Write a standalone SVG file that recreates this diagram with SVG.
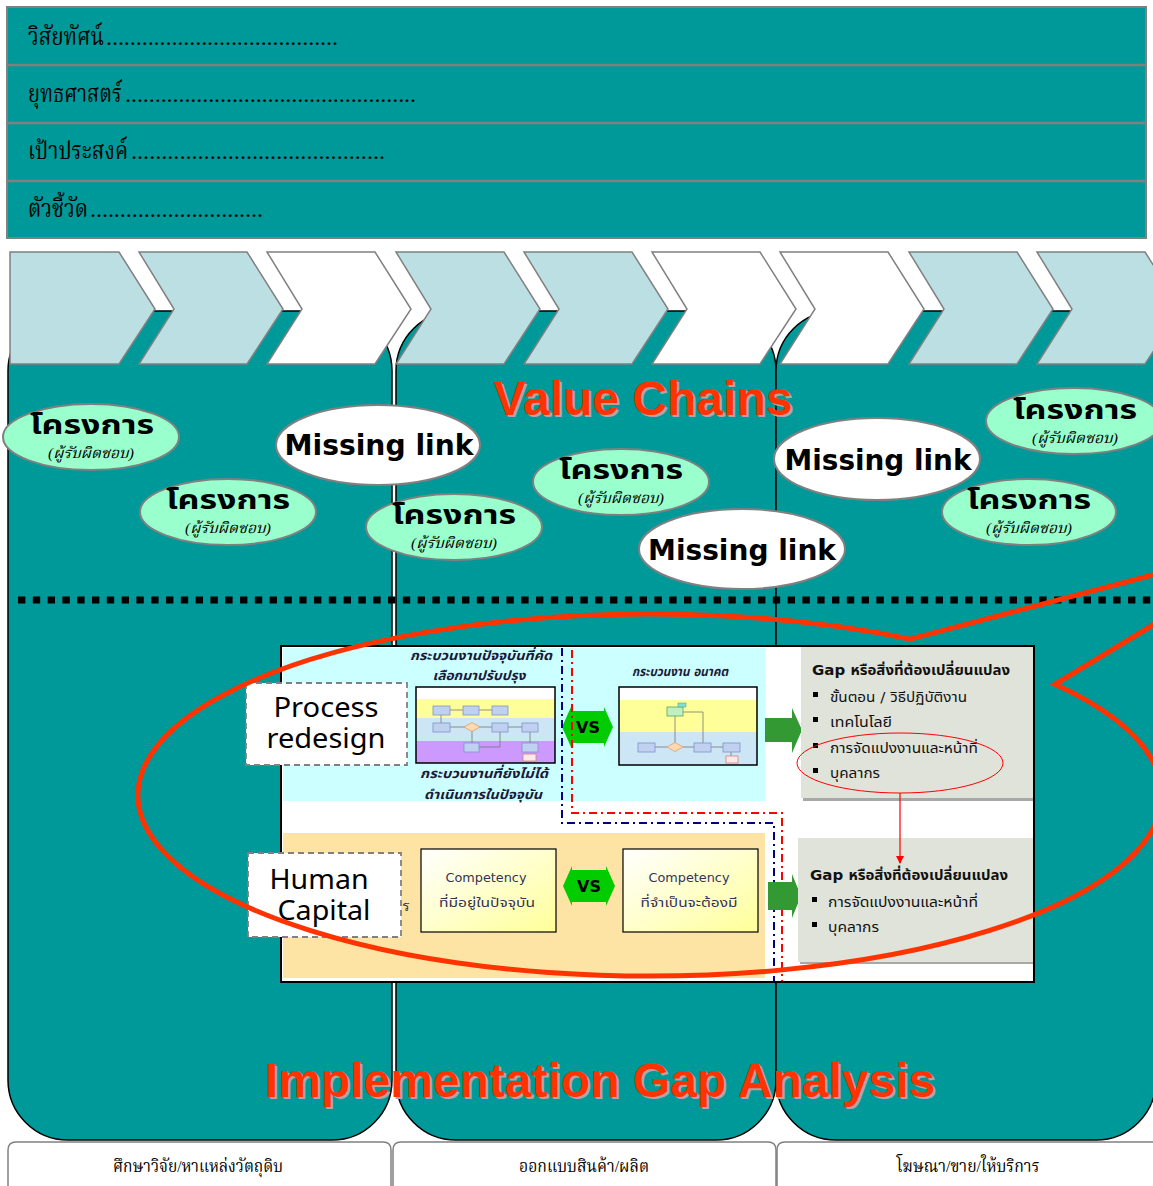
<svg xmlns="http://www.w3.org/2000/svg" width="1153" height="1186" viewBox="0 0 1153 1186">
<defs>
<style>
.row{font-family:"Liberation Serif","Noto Serif Thai","Noto Sans Thai",serif;font-size:24px;fill:#000}
.col{fill:#009999;stroke:#000;stroke-width:1.5}
.chev{fill:#BBDFE2;stroke:#808080;stroke-width:1.5}
.chevw{fill:#FFFFFF;stroke:#808080;stroke-width:1.5}
.proj{fill:#99FFCC;stroke:#808080;stroke-width:2}
.miss{fill:#FFFFFF;stroke:#808080;stroke-width:2}
.pt{font-family:"Noto Sans Thai","DejaVu Sans",sans-serif;font-weight:bold;font-size:27px;text-anchor:middle;fill:#000}
.ps{font-family:"Liberation Serif","Noto Serif Thai",serif;font-style:italic;font-size:15px;text-anchor:middle;fill:#000}
.mt{font-family:"DejaVu Sans","Noto Sans",sans-serif;font-weight:bold;font-size:29px;text-anchor:middle;fill:#000}
.big{font-family:"Liberation Sans",Arial,sans-serif;font-weight:bold;font-size:48px;text-anchor:middle}
.gap{font-family:"DejaVu Sans","Noto Sans Thai",sans-serif;font-size:14px;fill:#111}
.cap{font-family:"DejaVu Sans","Noto Sans Thai",sans-serif;font-weight:bold;font-style:italic;font-size:13px;text-anchor:middle;fill:#1a1a3a}
.comp{font-family:"DejaVu Sans","Noto Sans Thai",sans-serif;font-size:13px;text-anchor:middle;fill:#333355}
.lbl{font-family:"Noto Sans","Open Sans",sans-serif;font-size:28px;text-anchor:middle;fill:#000}
.bot{font-family:"Liberation Serif","Noto Serif Thai",serif;font-size:17px;text-anchor:middle;fill:#000}
.mb{fill:#BFD0F0;stroke:#7F93C8;stroke-width:0.8}
.ml{stroke:#777;stroke-width:0.8;fill:none}
</style>
<linearGradient id="yg" x1="0" y1="0" x2="1" y2="1">
<stop offset="0" stop-color="#FFFFFF"/><stop offset="1" stop-color="#FFFF99"/>
</linearGradient>
<marker id="ra" markerWidth="8" markerHeight="8" refX="7" refY="4" orient="auto" markerUnits="userSpaceOnUse">
<path d="M0,0 L8,4 L0,8 z" fill="#FF0000"/>
</marker>
</defs>
<rect width="1153" height="1186" fill="#FFFFFF"/>

<!-- top rows -->
<g id="header">
<rect x="7" y="7" width="1139" height="231" fill="#009999" stroke="#808080" stroke-width="2"/>
<line x1="7" y1="65" x2="1146" y2="65" stroke="#808080" stroke-width="2.5"/>
<line x1="7" y1="123" x2="1146" y2="123" stroke="#808080" stroke-width="2.5"/>
<line x1="7" y1="181" x2="1146" y2="181" stroke="#808080" stroke-width="2.5"/>
<text class="row" x="28" y="45" textLength="76" lengthAdjust="spacingAndGlyphs">วิสัยทัศน์</text>
<text class="row" x="106" y="45" textLength="232" lengthAdjust="spacing">.......................................</text>
<text class="row" x="28" y="102" textLength="94" lengthAdjust="spacingAndGlyphs">ยุทธศาสตร์</text>
<text class="row" x="125" y="102" textLength="291" lengthAdjust="spacing">.................................................</text>
<text class="row" x="28" y="159" textLength="100" lengthAdjust="spacingAndGlyphs">เป้าประสงค์</text>
<text class="row" x="131" y="159" textLength="254" lengthAdjust="spacing">..........................................</text>
<text class="row" x="28" y="217" textLength="60" lengthAdjust="spacingAndGlyphs">ตัวชี้วัด</text>
<text class="row" x="90" y="217" textLength="173" lengthAdjust="spacing">.............................</text>
</g>

<!-- columns -->
<g id="columns">
<rect class="col" x="8" y="311" width="384" height="829" rx="60" ry="60"/>
<rect class="col" x="396" y="311" width="380" height="829" rx="60" ry="60"/>
<rect class="col" x="776" y="311" width="380" height="829" rx="60" ry="60"/>
</g>

<!-- chevrons -->
<g id="chevrons">
<polygon class="chev" points="10,252 119,252 155,309 119,364 10,364"/>
<polygon class="chev" points="139,252 247,252 283,309 247,364 139,364 174,309"/>
<polygon class="chevw" points="267,252 375,252 411,309 375,364 267,364 302,309"/>
<polygon class="chev" points="396,252 504,252 540,309 504,364 396,364 431,309"/>
<polygon class="chev" points="524,252 632,252 668,309 632,364 524,364 559,309"/>
<polygon class="chevw" points="652,252 760,252 796,309 760,364 652,364 687,309"/>
<polygon class="chevw" points="780,252 888,252 924,309 888,364 780,364 815,309"/>
<polygon class="chev" points="909,252 1017,252 1053,309 1017,364 909,364 944,309"/>
<polygon class="chev" points="1037,252 1145,252 1181,309 1145,364 1037,364 1072,309"/>
</g>

<!-- titles -->
<g id="title-value-chains">
<text class="big" x="645" y="417" fill="#A8A8A8">Value Chains</text>
<text class="big" x="643" y="415" fill="#FF3300">Value Chains</text>
</g>

<!-- project ellipses -->
<g id="proj1"><ellipse class="proj" cx="91" cy="437" rx="88" ry="33"/>
<text class="pt" x="92" y="434" textLength="124" lengthAdjust="spacingAndGlyphs">โครงการ</text>
<text class="ps" x="91" y="458" textLength="86" lengthAdjust="spacingAndGlyphs">(ผู้รับผิดชอบ)</text></g>
<g id="proj2"><ellipse class="proj" cx="228" cy="512" rx="88" ry="33"/>
<text class="pt" x="228" y="509" textLength="124" lengthAdjust="spacingAndGlyphs">โครงการ</text>
<text class="ps" x="228" y="533" textLength="86" lengthAdjust="spacingAndGlyphs">(ผู้รับผิดชอบ)</text></g>
<g id="proj3"><ellipse class="proj" cx="454" cy="527" rx="88" ry="33"/>
<text class="pt" x="454" y="524" textLength="124" lengthAdjust="spacingAndGlyphs">โครงการ</text>
<text class="ps" x="454" y="548" textLength="86" lengthAdjust="spacingAndGlyphs">(ผู้รับผิดชอบ)</text></g>
<g id="proj4"><ellipse class="proj" cx="621" cy="482" rx="88" ry="33"/>
<text class="pt" x="621" y="479" textLength="124" lengthAdjust="spacingAndGlyphs">โครงการ</text>
<text class="ps" x="621" y="503" textLength="86" lengthAdjust="spacingAndGlyphs">(ผู้รับผิดชอบ)</text></g>
<g id="proj5"><ellipse class="proj" cx="1074" cy="421" rx="88" ry="33"/>
<text class="pt" x="1075" y="419" textLength="124" lengthAdjust="spacingAndGlyphs">โครงการ</text>
<text class="ps" x="1075" y="443" textLength="86" lengthAdjust="spacingAndGlyphs">(ผู้รับผิดชอบ)</text></g>
<g id="proj6"><ellipse class="proj" cx="1029" cy="512" rx="87" ry="33"/>
<text class="pt" x="1029" y="509" textLength="124" lengthAdjust="spacingAndGlyphs">โครงการ</text>
<text class="ps" x="1029" y="533" textLength="86" lengthAdjust="spacingAndGlyphs">(ผู้รับผิดชอบ)</text></g>

<!-- missing links -->
<g id="miss1"><ellipse class="miss" cx="378" cy="445" rx="102" ry="40"/>
<text class="mt" x="379" y="455" textLength="189" lengthAdjust="spacingAndGlyphs">Missing link</text></g>
<g id="miss2"><ellipse class="miss" cx="877" cy="459" rx="103" ry="41"/>
<text class="mt" x="878" y="470" textLength="187" lengthAdjust="spacingAndGlyphs">Missing link</text></g>
<g id="miss3"><ellipse class="miss" cx="742" cy="549" rx="103" ry="40"/>
<text class="mt" x="742" y="560" textLength="188" lengthAdjust="spacingAndGlyphs">Missing link</text></g>

<!-- dotted divider -->
<line x1="18" y1="600" x2="1153" y2="600" stroke="#000" stroke-width="7" stroke-dasharray="7.4 7.4"/>

<!-- inner gap-analysis picture -->
<g id="gap-picture">
<rect x="281" y="646" width="753" height="336" fill="#FFFFFF" stroke="#000" stroke-width="2"/>
<rect x="283" y="648" width="482" height="153" fill="#CCFFFF"/>
<rect x="283" y="833" width="482" height="145" fill="#FDE3A4"/>

<text class="cap" x="481" y="660" textLength="142" lengthAdjust="spacingAndGlyphs">กระบวนงานปัจจุบันที่คัด</text>
<text class="cap" x="479" y="680" textLength="93" lengthAdjust="spacingAndGlyphs">เลือกมาปรับปรุง</text>
<text class="cap" x="484" y="778" textLength="128" lengthAdjust="spacingAndGlyphs">กระบวนงานที่ยังไม่ได้</text>
<text class="cap" x="483" y="799" textLength="118" lengthAdjust="spacingAndGlyphs">ดำเนินการในปัจจุบัน</text>
<text class="cap" x="680" y="676" font-size="11" textLength="96" lengthAdjust="spacingAndGlyphs">กระบวนงาน อนาคต</text>

<!-- current process mini chart -->
<g id="mini-current">
<rect x="416" y="687" width="139" height="76" fill="#FFFFFF"/>
<rect x="416" y="699" width="139" height="19" fill="#FFFF99"/>
<rect x="416" y="718" width="139" height="23" fill="#CCE6F6"/>
<rect x="416" y="741" width="139" height="22" fill="#CC99FF"/>
<path class="ml" d="M450,710 H463 M479,710 H492 M441,715 V723 M450,727 H466 M478,727 H492 M508,727 H522 M472,731 V743 M479,747 H500 V732 M530,732 V743"/>
<rect class="mb" x="433" y="706" width="17" height="9"/>
<rect class="mb" x="463" y="706" width="16" height="9"/>
<rect class="mb" x="492" y="706" width="16" height="9"/>
<rect class="mb" x="433" y="723" width="17" height="9"/>
<polygon points="464,727 472,722.5 480,727 472,731.5" fill="#FFD9B3" stroke="#D9A070" stroke-width="0.8"/>
<rect class="mb" x="492" y="723" width="16" height="9"/>
<rect class="mb" x="522" y="723" width="16" height="9"/>
<rect class="mb" x="464" y="743" width="15" height="9"/>
<rect class="mb" x="522" y="743" width="16" height="9"/>
<rect x="523" y="754" width="13" height="7" fill="#FFE8E8" stroke="#D08080" stroke-width="0.8"/>
<rect x="416" y="687" width="139" height="76" fill="none" stroke="#000" stroke-width="1.5"/>
</g>

<!-- future process mini chart -->
<g id="mini-future">
<rect x="619" y="687" width="138" height="78" fill="#FFFFFF"/>
<rect x="619" y="700" width="138" height="32" fill="#FFFF99"/>
<rect x="619" y="732" width="138" height="33" fill="#CCE6F6"/>
<path class="ml" d="M675,716 V743 M683,712 H703 V743 M655,747 H667 M683,747 H694 M711,747 H723 M731,752 V756"/>
<rect x="667" y="707" width="16" height="9" fill="#BFF0C0" stroke="#60A060" stroke-width="0.8"/>
<rect x="678" y="703" width="8" height="4" fill="#80E0D0" stroke="#40A090" stroke-width="0.5"/>
<rect class="mb" x="638" y="743" width="17" height="9"/>
<polygon points="667,747 675,742.5 683,747 675,751.5" fill="#FFD9B3" stroke="#D9A070" stroke-width="0.8"/>
<rect class="mb" x="694" y="743" width="17" height="9"/>
<rect class="mb" x="723" y="743" width="17" height="9"/>
<rect x="726" y="756" width="12" height="7" fill="#FFE8E8" stroke="#D08080" stroke-width="0.8"/>
<rect x="619" y="687" width="138" height="78" fill="none" stroke="#000" stroke-width="1.5"/>
</g>

<!-- VS badges -->
<g id="vs1">
<polygon points="562,727 571,707 571,711 604,711 604,707 613,727 604,747 604,743 571,743 571,747" fill="#00CC00"/>
<text x="588" y="733" font-family="DejaVu Sans,sans-serif" font-weight="bold" font-size="16" text-anchor="middle" fill="#000">VS</text>
</g>
<g id="vs2">
<polygon points="563,886 572,866 572,870 606,870 606,866 615,886 606,906 606,902 572,902 572,906" fill="#00CC00"/>
<text x="589" y="892" font-family="DejaVu Sans,sans-serif" font-weight="bold" font-size="16" text-anchor="middle" fill="#000">VS</text>
</g>

<!-- competency boxes -->
<g id="comp-current">
<rect x="421" y="849" width="135" height="83" fill="url(#yg)" stroke="#000" stroke-width="1.2"/>
<text class="comp" x="486" y="882" textLength="81" lengthAdjust="spacingAndGlyphs">Competency</text>
<text class="comp" x="487" y="907" textLength="96" lengthAdjust="spacingAndGlyphs">ที่มีอยู่ในปัจจุบัน</text>
</g>
<g id="comp-required">
<rect x="623" y="849" width="135" height="83" fill="url(#yg)" stroke="#000" stroke-width="1.2"/>
<text class="comp" x="689" y="882" textLength="81" lengthAdjust="spacingAndGlyphs">Competency</text>
<text class="comp" x="689" y="907" textLength="97" lengthAdjust="spacingAndGlyphs">ที่จำเป็นจะต้องมี</text>
</g>
<text x="402" y="911" font-family="DejaVu Sans,sans-serif" font-size="14" fill="#333">ร</text>

<!-- dash-dot boundaries -->
<path d="M562,648 V823 H774 V982" fill="none" stroke="#000080" stroke-width="2" stroke-dasharray="8 4 2 4"/>
<path d="M572,650 V813 H782 V982" fill="none" stroke="#FF0000" stroke-width="2" stroke-dasharray="8 4 2 4"/>

<!-- green arrows -->
<polygon points="765,718 792,718 792,708 802,730 792,753 792,742 765,742" fill="#339933"/>
<polygon points="768,882 792,882 792,874 801,896 792,918 792,910 768,910" fill="#339933"/>

<!-- gap boxes -->
<g id="gap-box1">
<rect x="803" y="647" width="231" height="154" fill="#A8A8A8"/>
<rect x="801" y="645" width="232" height="153" fill="#E0E3DA"/>
<text class="gap" x="812" y="675" font-weight="bold" textLength="198" lengthAdjust="spacingAndGlyphs">Gap หรือสิ่งที่ต้องเปลี่ยนแปลง</text>
<rect x="813" y="692" width="5" height="5" fill="#000"/>
<text class="gap" x="830" y="702" textLength="137" lengthAdjust="spacingAndGlyphs">ขั้นตอน / วิธีปฏิบัติงาน</text>
<rect x="813" y="717" width="5" height="5" fill="#000"/>
<text class="gap" x="830" y="727" textLength="62" lengthAdjust="spacingAndGlyphs">เทคโนโลยี</text>
<rect x="813" y="743" width="5" height="5" fill="#000"/>
<text class="gap" x="830" y="753" textLength="148" lengthAdjust="spacingAndGlyphs">การจัดแปงงานและหน้าที่</text>
<rect x="813" y="768" width="5" height="5" fill="#000"/>
<text class="gap" x="830" y="778" textLength="50" lengthAdjust="spacingAndGlyphs">บุคลากร</text>
</g>
<g id="gap-box2">
<rect x="800" y="840" width="234" height="124" fill="#A8A8A8"/>
<rect x="798" y="838" width="235" height="124" fill="#E0E3DA"/>
<text class="gap" x="810" y="880" font-weight="bold" textLength="198" lengthAdjust="spacingAndGlyphs">Gap หรือสิ่งที่ต้องเปลี่ยนแปลง</text>
<rect x="812" y="897" width="5" height="5" fill="#000"/>
<text class="gap" x="828" y="907" textLength="150" lengthAdjust="spacingAndGlyphs">การจัดแปงงานและหน้าที่</text>
<rect x="812" y="922" width="5" height="5" fill="#000"/>
<text class="gap" x="828" y="932" textLength="51" lengthAdjust="spacingAndGlyphs">บุคลากร</text>
</g>
<rect x="281" y="646" width="753" height="336" fill="none" stroke="#000" stroke-width="2"/>
</g>

<!-- label boxes -->
<g id="process-redesign">
<rect x="246" y="683" width="161" height="82" fill="#FFFFFF" stroke="#808080" stroke-width="1.8" stroke-dasharray="6 4"/>
<text class="lbl" x="326" y="717" textLength="105" lengthAdjust="spacingAndGlyphs">Process</text>
<text class="lbl" x="326" y="748" textLength="119" lengthAdjust="spacingAndGlyphs">redesign</text>
</g>
<g id="human-capital">
<rect x="248" y="853" width="153" height="84" fill="#FFFFFF" stroke="#808080" stroke-width="1.8" stroke-dasharray="6 4"/>
<text class="lbl" x="319" y="889" textLength="99" lengthAdjust="spacingAndGlyphs">Human</text>
<text class="lbl" x="324" y="920" textLength="93" lengthAdjust="spacingAndGlyphs">Capital</text>
</g>

<!-- connectors -->
<g id="connectors">
<ellipse cx="900" cy="763" rx="103" ry="30" fill="none" stroke="#FF0000" stroke-width="1"/>
<line x1="900" y1="793" x2="900" y2="863" stroke="#FF0000" stroke-width="1.2" marker-end="url(#ra)"/>
<path d="M910,639.1 L1300,536 L1055,684.3 A512,181 0 1 1 910,639.1 Z" fill="none" stroke="#FF3300" stroke-width="5" stroke-linejoin="miter"/>
</g>

<g id="title-gap">
<text class="big" x="602" y="1099" fill="#A8A8A8">Implementation Gap Analysis</text>
<text class="big" x="600" y="1097" fill="#FF3300">Implementation Gap Analysis</text>
</g>

<!-- bottom labels -->
<g id="bottom-1">
<path d="M8,1190 V1150 Q8,1142 16,1142 H383 Q391,1142 391,1150 V1190" fill="#FFFFFF" stroke="#808080" stroke-width="1.5"/>
<text class="bot" x="198" y="1172" textLength="170" lengthAdjust="spacingAndGlyphs">ศึกษาวิจัย/หาแหล่งวัตถุดิบ</text>
</g>
<g id="bottom-2">
<path d="M393,1190 V1150 Q393,1142 401,1142 H768 Q776,1142 776,1150 V1190" fill="#FFFFFF" stroke="#808080" stroke-width="1.5"/>
<text class="bot" x="584" y="1172" textLength="130" lengthAdjust="spacingAndGlyphs">ออกแบบสินค้า/ผลิต</text>
</g>
<g id="bottom-3">
<path d="M777,1190 V1150 Q777,1142 785,1142 H1160" fill="#FFFFFF" stroke="#808080" stroke-width="1.5"/>
<text class="bot" x="968" y="1172" textLength="143" lengthAdjust="spacingAndGlyphs">โฆษณา/ขาย/ให้บริการ</text>
</g>
</svg>
